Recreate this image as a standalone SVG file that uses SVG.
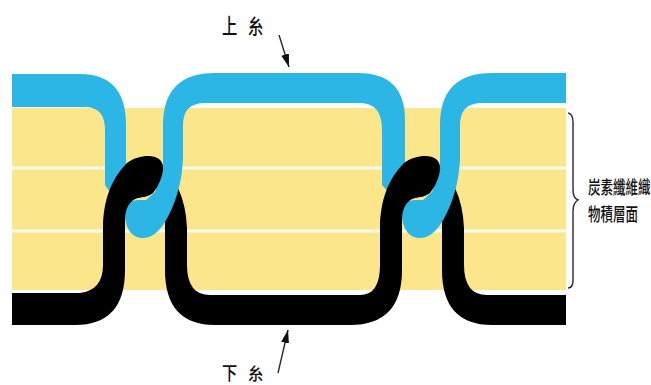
<svg xmlns="http://www.w3.org/2000/svg" width="651" height="385" viewBox="0 0 651 385">
  <style>
    .blue { fill: #2bb6e6; }
    .black { fill: #000; }
    .ply { stroke: #fbfaf2; stroke-width: 3; fill: none; }
    .label { font-family: "Noto Sans CJK TC", "Noto Sans CJK JP", "Liberation Sans", sans-serif; fill: #111; font-weight: 500; }
    .thin { stroke: #2a2a2a; stroke-width: 1.4; fill: none; }
  </style>
  <defs>
    <marker id="head" markerWidth="14" markerHeight="10" refX="13" refY="4.5" orient="auto" markerUnits="userSpaceOnUse">
      <path d="M0 0.5L13 4.5L0 8.5Z" fill="#111"/>
    </marker>
    <!-- hook of the lower yarn, drawn over the upper yarn at each interlock -->
    <path id="hook" d="M103 265V228C103 200 112 178 127 163C134 158 141 156 148 156C158 156 164 161 163 170C162 178 158 187 153 193C148 197 143 197 138 198C130 200 125 208 125 220V265Z"/>
  </defs>
  <rect width="651" height="385" fill="#fff"/>

  <!-- laminate -->
  <g id="laminate">
    <rect x="12" y="108" width="554" height="182" fill="#fce68c"/>
    <path class="ply" d="M12 168H566M12 231H566"/>
  </g>

  <!-- lower yarn, portions passing beneath the upper yarn -->
  <g id="lower-yarn-back" class="black">
    <path d="M165 190V270Q165 325 215 325H350Q402 325 402 270V220H380V265Q380 295 360 295H210Q187 295 187 265V228Q186 205 178 188Z"/>
    <path d="M442 190V270Q442 325 492 325H566V295H487Q464 295 464 265V228Q463 205 455 188Z"/>
  </g>

  <!-- upper yarn -->
  <g id="upper-yarn" class="blue">
    <path d="M12 74H80Q126 74 126 125V195H112L105 185V130Q105 107 85 107H12Z"/>
    <path d="M163 125Q163 73 215 73H358Q405 73 405 120V195H391L382 185V130Q382 103 360 103H205Q183 103 183 125V160Q181 195 165 222Q155 238 143 238Q128 238 125 218V208L131 201L138 200H146L155 192L163 170Z"/>
    <path d="M440 125Q440 73 492 73H566V103H482Q460 103 460 125V160Q458 195 442 222Q432 238 420 238Q405 238 402 218V208L408 201L415 200H423L432 192L440 170Z"/>
  </g>

  <!-- lower yarn, portions lying over the upper yarn -->
  <g id="lower-yarn-front" class="black">
    <path d="M12 293H80Q103 290 103 265H125V270Q125 325 75 325H12Z"/>
    <use href="#hook"/>
    <use href="#hook" x="277"/>
  </g>

  <!-- pointers and brace -->
  <g id="connectors">
    <path class="thin" d="M279 35L289 67" marker-end="url(#head)"/>
    <path class="thin" d="M278 373L288 330" marker-end="url(#head)"/>
    <path class="thin" d="M568 113Q573 114 573 122V190Q573 198 578 200Q573 203 573 211V280Q573 288 568 288"/>
  </g>

  <g id="upper-yarn-label">
    <text class="label" font-size="17" transform="translate(222 34) scale(.9 1.3)">上</text>
    <text class="label" font-size="16" transform="translate(248 34) scale(.95 1.3)">糸</text>
  </g>
  <g id="lower-yarn-label">
    <text class="label" font-size="17" transform="translate(222 380) scale(.9 1.1)">下</text>
    <text class="label" font-size="16" transform="translate(248 380) scale(.95 1.1)">糸</text>
  </g>
  <g id="laminate-label">
    <text class="label" font-size="16" transform="translate(588 194) scale(.78 1.15)">炭素纖維織</text>
    <text class="label" font-size="16" transform="translate(588 221) scale(.78 1.15)">物積層面</text>
  </g>
</svg>
